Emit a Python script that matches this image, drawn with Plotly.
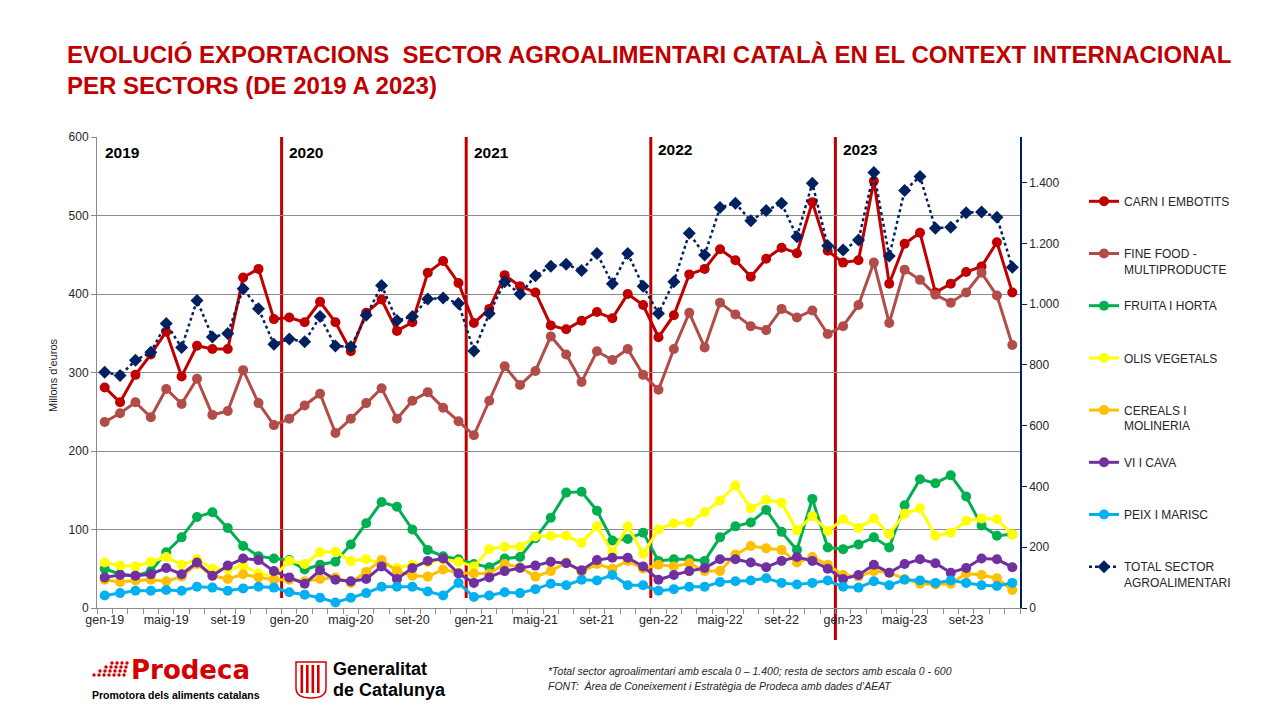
import plotly.graph_objects as go

# categories (mesos 2019-2023)
mesos = ["gen", "febr", "març", "abr", "maig", "juny", "jul", "ag", "set", "oct", "nov", "des"]
anys = ["19", "20", "21", "22", "23"]
months = [f"{m}-{a}" for a in anys for m in mesos]
tick_text = [m if m.split("-")[0] in ("gen", "maig", "set") else "" for m in months]

# milions d'euros, escala 0-600
carn = [281, 262, 297, 323, 352, 295, 334, 330, 330, 421, 432, 368,
        370, 364, 390, 364, 327, 376, 393, 353, 364, 427, 442, 414,
        363, 381, 424, 410, 402, 360, 355, 366, 377, 369, 400, 386,
        345, 373, 425, 432, 457, 443, 422, 445, 459, 452, 517, 455,
        440, 443, 544, 413, 464, 478, 402, 413, 428, 435, 466, 402]
fine_food = [237, 248, 262, 243, 279, 260, 292, 246, 251, 303, 261, 233,
             241, 258, 273, 223, 241, 261, 280, 241, 264, 275, 255, 238,
             220, 264, 308, 284, 302, 346, 323, 288, 327, 316, 330, 297,
             278, 330, 376, 332, 389, 374, 359, 354, 381, 370, 379, 349,
             359, 386, 440, 363, 431, 418, 399, 389, 402, 427, 398, 335]
fruita = [50, 43, 41, 47, 71, 90, 116, 122, 102, 79, 66, 63,
          61, 49, 55, 59, 81, 108, 135, 129, 100, 74, 66, 62,
          56, 52, 63, 65, 89, 115, 147, 148, 124, 86, 88, 96,
          60, 62, 62, 60, 90, 104, 109, 125, 97, 74, 139, 77,
          75, 81, 90, 77, 131, 164, 159, 169, 142, 105, 92, 94]
olis = [58, 54, 53, 59, 65, 55, 62, 50, 49, 54, 44, 40,
        60, 56, 71, 72, 60, 62, 57, 51, 55, 58, 62, 59,
        53, 75, 78, 78, 91, 92, 92, 83, 104, 71, 104, 69,
        100, 108, 109, 122, 137, 156, 127, 138, 134, 99, 117, 98,
        113, 102, 114, 94, 120, 127, 92, 96, 111, 114, 113, 94]
cereals = [36, 33, 35, 36, 34, 40, 56, 41, 37, 43, 39, 36,
           36, 34, 37, 39, 32, 46, 61, 47, 41, 40, 49, 45,
           44, 44, 56, 52, 40, 47, 58, 46, 56, 50, 60, 50,
           55, 53, 57, 47, 47, 68, 79, 76, 74, 58, 65, 55,
           42, 40, 47, 45, 37, 31, 30, 31, 44, 42, 38, 23]
vi_cava = [39, 42, 41, 43, 51, 43, 58, 41, 54, 63, 61, 47,
           39, 31, 48, 36, 34, 37, 53, 37, 51, 60, 63, 44,
           32, 39, 47, 51, 54, 59, 57, 48, 61, 64, 64, 53,
           36, 42, 47, 51, 62, 62, 58, 52, 60, 65, 60, 50,
           37, 42, 55, 45, 56, 62, 57, 45, 51, 63, 62, 52]
peix = [16, 19, 22, 22, 23, 22, 27, 26, 22, 25, 27, 26,
        20, 17, 13, 7, 13, 19, 27, 27, 27, 21, 16, 32,
        14, 16, 20, 19, 24, 31, 29, 36, 35, 42, 29, 29,
        22, 24, 27, 27, 33, 34, 35, 38, 32, 30, 32, 35,
        27, 26, 34, 29, 36, 35, 32, 35, 32, 29, 28, 32]
# total sector, escala 0-1.400 (eix dret)
total = [776, 765, 815, 842, 936, 857, 1012, 892, 903, 1051, 985, 868,
         885, 876, 959, 862, 860, 963, 1061, 946, 959, 1017, 1020, 1002,
         846, 969, 1074, 1033, 1093, 1125, 1131, 1111, 1167, 1067, 1167, 1059,
         969, 1074, 1233, 1162, 1318, 1332, 1274, 1308, 1332, 1222, 1398, 1192,
         1178, 1211, 1433, 1158, 1374, 1420, 1250, 1253, 1301, 1303, 1286, 1121]

years = ["2019", "2020", "2021", "2022", "2023"]
right_ticks = [0, 200, 400, 600, 800, 1000, 1200, 1400]
right_text = ["0", "200", "400", "600", "800", "1.000", "1.200", "1.400"]

NAVY = "#002060"
GRID = "#8C8C8C"
RED = "#C00000"

series = [
    ("CARN I EMBOTITS<br> ", carn, "#C00000"),
    ("FINE FOOD -<br>MULTIPRODUCTE", fine_food, "#B24C48"),
    ("FRUITA I HORTA<br> ", fruita, "#00B050"),
    ("OLIS VEGETALS<br> ", olis, "#FFFF00"),
    ("CEREALS I<br>MOLINERIA", cereals, "#FFC000"),
    ("VI I CAVA<br> ", vi_cava, "#7030A0"),
    ("PEIX I MARISC<br> ", peix, "#00B0F0"),
]

fig = go.Figure()
for i, (name, vals, color) in enumerate(series):
    fig.add_trace(go.Scatter(
        x=months, y=vals, name=name, mode="lines+markers",
        line=dict(color=color, width=3),
        marker=dict(color=color, size=10),
        legendgroup=str(i),
    ))
fig.add_trace(go.Scatter(
    x=months, y=total, yaxis="y2", name="TOTAL SECTOR<br>AGROALIMENTARI",
    mode="lines+markers",
    line=dict(color=NAVY, width=2.5, dash="dot"),
    marker=dict(color=NAVY, size=10, symbol="diamond"),
    legendgroup="7",
))


# pixel (pagina) -> paper helpers (plot area 97..1020 x 137..608)
def px(x):
    return (x - 97) / 923


def py(y):
    return (608 - y) / 471


shapes = []
# linies verticals separant anys
for k in range(1, 5):
    bottom = 640 if k == 4 else 598
    shapes.append(dict(type="line", xref="x", yref="paper", x0=12 * k - 0.5, x1=12 * k - 0.5,
                       y0=py(bottom), y1=1, line=dict(color=RED, width=3), layer="between"))

annotations = []
for k, yr in enumerate(years):
    annotations.append(dict(x=12 * k, y=py(152 if k < 3 else 149), xref="x", yref="paper",
                            text=f"<b>{yr}</b>", showarrow=False, xanchor="left", yanchor="middle",
                            xshift=-2, font=dict(size=15.5, color="black")))

annotations.append(dict(x=px(45), y=py(375), xref="paper", yref="paper", text="Millons d'euros",
                        textangle=-90, showarrow=False, font=dict(size=11, color="#262626")))

# logo Prodeca (punts)
for r, (x_start, n) in enumerate([(112, 4), (106, 5), (100, 6), (94, 7)]):
    yc = 663 + r * 4
    for j in range(n):
        xc = x_start + j * 5
        shapes.append(dict(type="circle", xref="paper", yref="paper",
                           x0=px(xc - 1.7), x1=px(xc + 1.7), y0=py(yc + 1.7), y1=py(yc - 1.7),
                           fillcolor="#D40000", line=dict(width=0)))
annotations.append(dict(x=px(130), y=py(670), xref="paper", yref="paper", text="<b>Prodeca</b>",
                        showarrow=False, xanchor="left", yanchor="middle", borderpad=0,
                        font=dict(family="DejaVu Sans", size=26, color="#D40000")))
annotations.append(dict(x=px(91), y=py(695), xref="paper", yref="paper",
                        text="<b>Promotora dels aliments catalans</b>", showarrow=False,
                        xanchor="left", yanchor="middle", borderpad=0,
                        font=dict(size=10.5, color="black")))

# logo Generalitat (escut)
shapes.append(dict(type="path", xref="paper", yref="paper",
                   path=(f"M {px(296)} {py(662)} L {px(326)} {py(662)} L {px(326)} {py(688)} "
                         f"Q {px(326)} {py(698)} {px(311)} {py(698)} Q {px(296)} {py(698)} {px(296)} {py(688)} Z"),
                   line=dict(color="#D40000", width=1.5), fillcolor="white"))
for xs in [300.5, 306, 311.5, 317]:
    shapes.append(dict(type="rect", xref="paper", yref="paper",
                       x0=px(xs), x1=px(xs + 2.6), y0=py(693), y1=py(665),
                       fillcolor="#D40000", line=dict(width=0)))
annotations.append(dict(x=px(332), y=py(669), xref="paper", yref="paper", text="<b>Generalitat</b>",
                        showarrow=False, xanchor="left", yanchor="middle", borderpad=0,
                        font=dict(size=18, color="black")))
annotations.append(dict(x=px(332), y=py(690), xref="paper", yref="paper", text="<b>de Catalunya</b>",
                        showarrow=False, xanchor="left", yanchor="middle", borderpad=0,
                        font=dict(size=18, color="black")))

# notes
annotations.append(dict(x=px(547), y=py(671), xref="paper", yref="paper",
                        text="<i>*Total sector agroalimentari amb escala 0 – 1.400; resta de sectors amb escala 0 - 600</i>",
                        showarrow=False, xanchor="left", yanchor="middle", borderpad=0,
                        font=dict(size=10.5, color="#262626")))
annotations.append(dict(x=px(547), y=py(686), xref="paper", yref="paper",
                        text="<i>FONT:  Àrea de Coneixement i Estratègia de Prodeca amb dades d’AEAT</i>",
                        showarrow=False, xanchor="left", yanchor="middle", borderpad=0,
                        font=dict(size=10.5, color="#262626")))

# la pagina afegeix 8px de marge: figura 1272x712 i plot area a 89..1012 x 129..600
fig.update_layout(
    width=1272, height=712,
    paper_bgcolor="white", plot_bgcolor="white",
    margin=dict(l=89, r=260, t=129, b=112),
    font=dict(family="Liberation Sans, Arial, sans-serif", size=12, color="#262626"),
    title=dict(
        text="EVOLUCIÓ EXPORTACIONS \u00a0SECTOR AGROALIMENTARI CATALÀ EN EL CONTEXT INTERNACIONAL<br>PER SECTORS (DE 2019 A 2023)",
        x=59 / 1272, xanchor="left", y=1 - 55 / 712, yanchor="top",
        font=dict(size=24, color=RED, weight="bold"),
    ),
    showlegend=True,
    legend=dict(x=px(1084), y=py(187), xanchor="left", yanchor="top",
                traceorder="grouped", tracegroupgap=18, valign="top",
                bgcolor="rgba(0,0,0,0)", font=dict(size=12, color="#262626")),
    xaxis=dict(type="category", tickmode="array", tickvals=months, ticktext=tick_text,
               tickson="boundaries", ticks="outside", ticklen=5, tickcolor=GRID, tickangle=0,
               showline=True, linecolor=GRID, showgrid=False, range=[-0.5, 59.5],
               tickfont=dict(size=12.5, color="#262626")),
    yaxis=dict(range=[0, 600], dtick=100, showgrid=True, gridcolor=GRID, gridwidth=1,
               showline=True, linecolor=GRID, ticks="outside", ticklen=5, tickcolor=GRID,
               zeroline=False, tickfont=dict(size=12, color="#262626")),
    yaxis2=dict(overlaying="y", side="right", range=[0, 1550], tickmode="array",
                tickvals=right_ticks, ticktext=right_text, showgrid=False,
                showline=True, linecolor=NAVY, linewidth=1.5, ticks="outside", ticklen=5,
                tickcolor=NAVY, zeroline=False, tickfont=dict(size=12, color="#262626")),
    shapes=shapes,
    annotations=annotations,
)

fig.write_html("out.html")
